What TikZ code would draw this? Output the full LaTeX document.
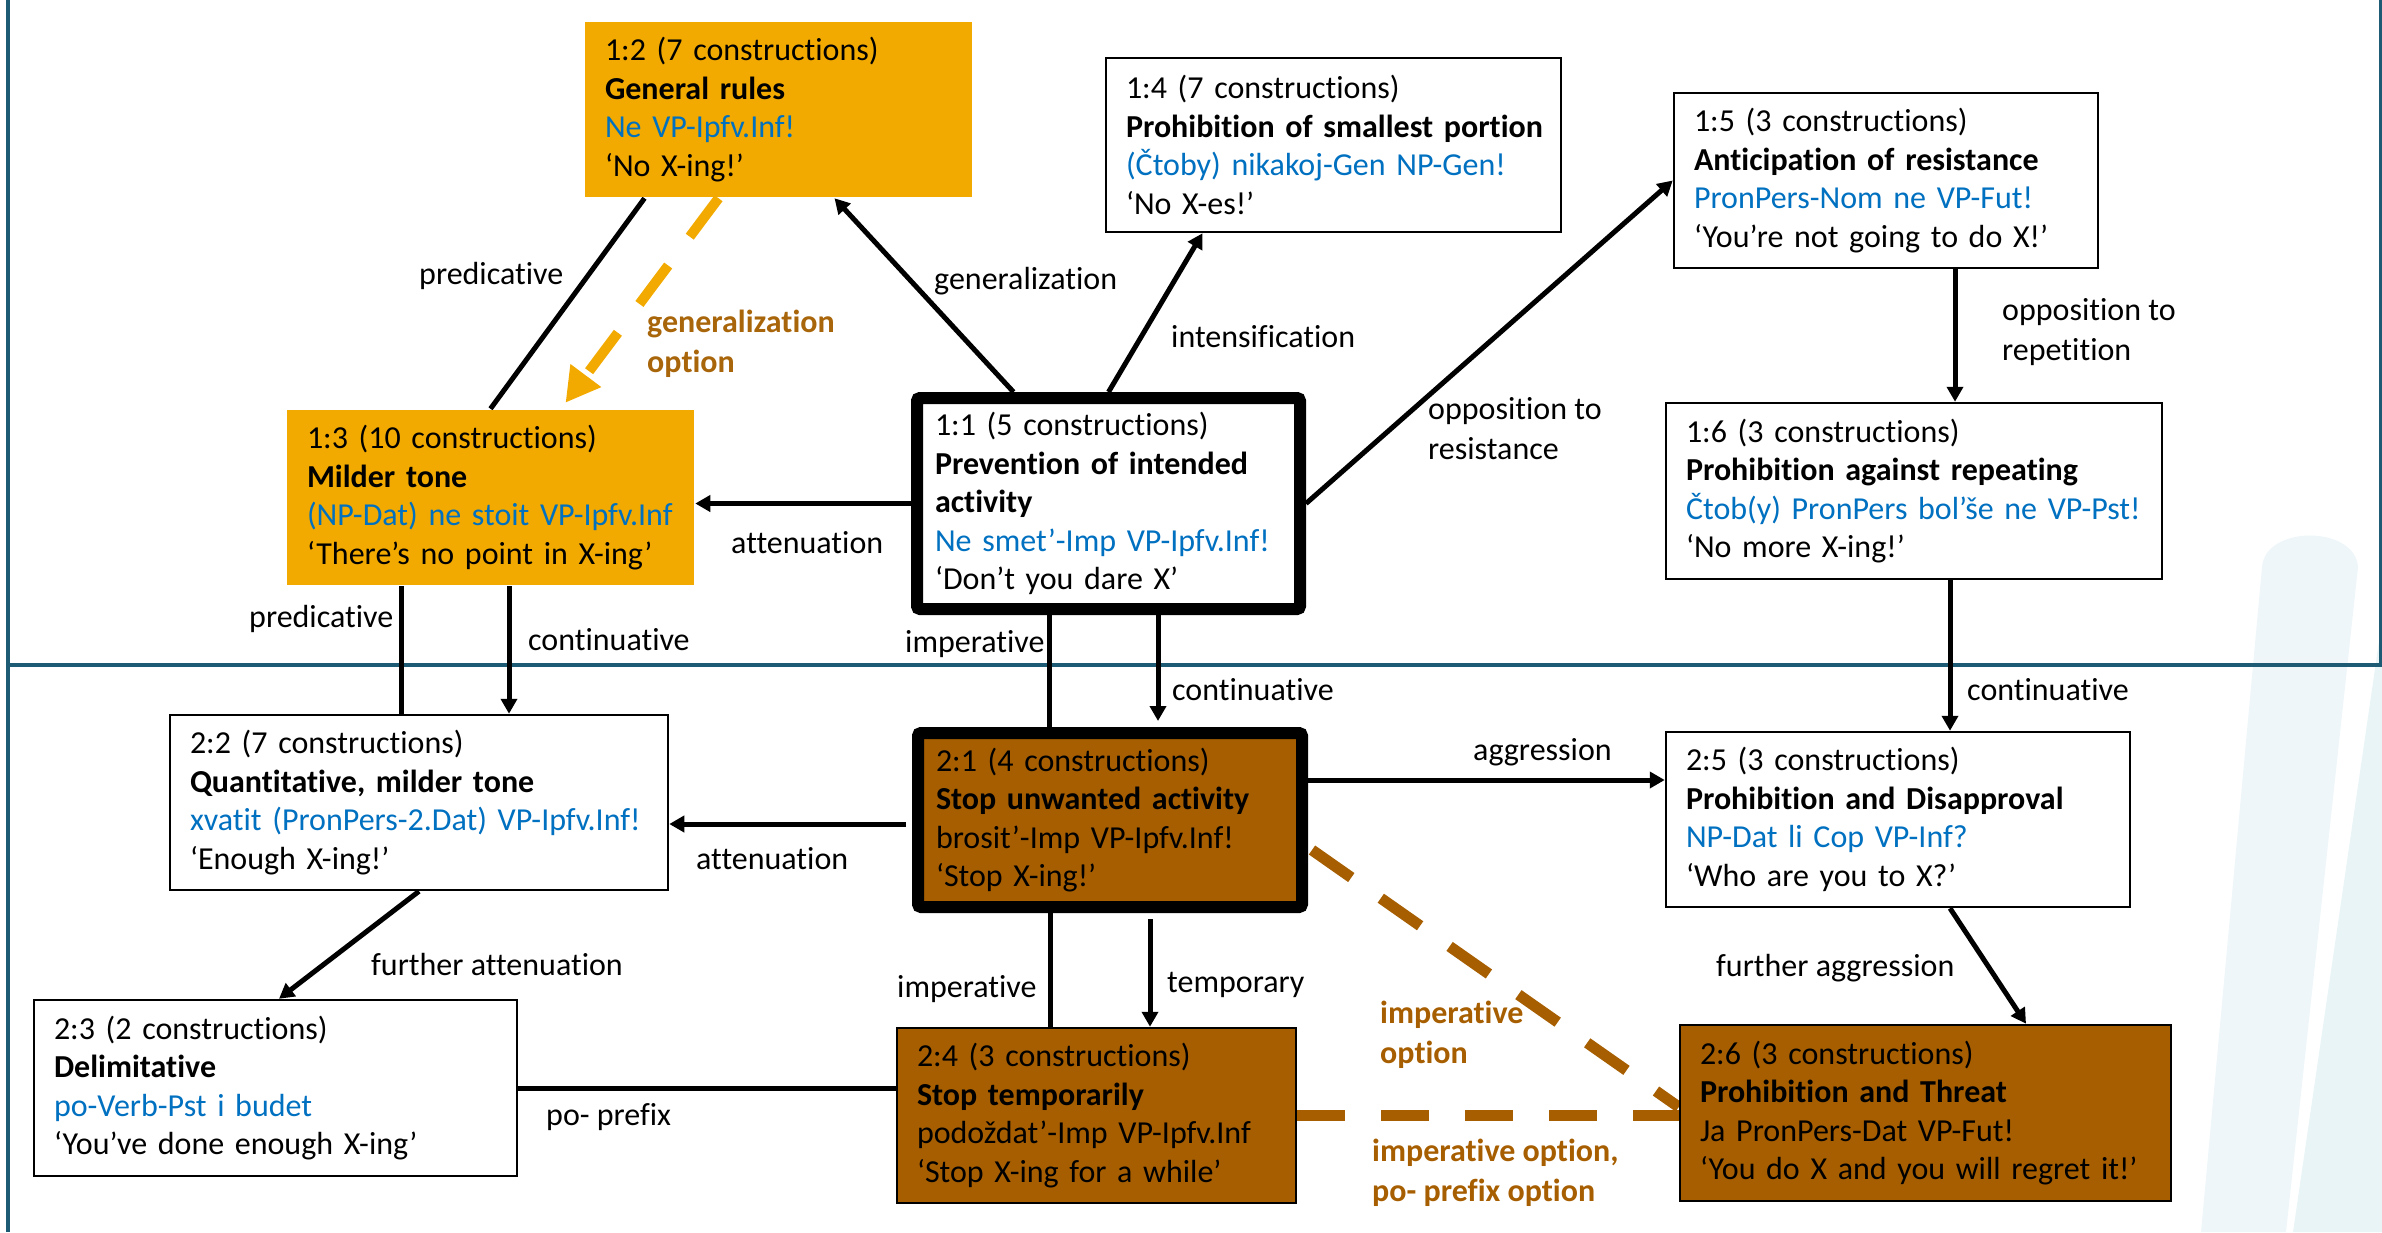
\documentclass[tikz,border=0pt]{standalone}
\usepackage{fontspec}
\setmainfont{Carlito}[Ligatures=NoCommon]
\usetikzlibrary{arrows.meta,calc}
\pgfdeclarelayer{deco}
\pgfdeclarelayer{edges}
\pgfsetlayers{deco,edges,main}
\definecolor{gold}{HTML}{F2AA00}
\definecolor{brownbox}{HTML}{A65E00}
\definecolor{cblue}{HTML}{0070C0}
\definecolor{frameteal}{HTML}{1D5A74}
\definecolor{genlbl}{HTML}{A8650A}
\definecolor{swA}{HTML}{EEF6F9}
\definecolor{swB}{HTML}{E9F4F7}
\tikzset{
  cbox/.style={draw=black, line width=2.5pt, fill=white, align=left, inner xsep=20pt, inner ysep=0pt,
    font=\fontsize{32}{38.5}\selectfont, anchor=center},
  tbox/.style={cbox, line width=12pt, rounded corners=3pt, inner xsep=18pt},
  lbl/.style={inner sep=0pt, anchor=west, align=left, font=\fontsize{32}{40}\selectfont},
  olbl/.style={lbl, font=\fontsize{32}{40}\selectfont\bfseries},
  ln/.style={draw=black, line width=5pt},
  arr/.style={ln, -{Triangle[length=15pt,width=16pt]}},
  goldarr/.style={draw=gold, line width=10pt, dash pattern=on 48pt off 36pt, -{Triangle[length=34pt,width=36pt]}},
  brline/.style={draw=brownbox, line width=11pt, dash pattern=on 48pt off 36pt},
  framel/.style={draw=frameteal, line width=4pt}
}
\begin{document}
\begin{tikzpicture}[x=1pt,y=-1pt]
\useasboundingbox (0,0) rectangle (2382,1232);
\begin{pgfonlayer}{deco}
\fill[swA] (2262,567) .. controls (2265,525) and (2355,525) .. (2358,567) -- (2286,1232) -- (2201,1232) -- cycle;
\fill[swB] (2385,600) -- (2382,1232) -- (2293,1232) -- cycle;
\draw[framel] (8,0) -- (8,1232);
\draw[framel] (8,665) -- (2382,665);
\draw[framel, line width=2.5pt] (2380.5,0) -- (2380.5,665);
\end{pgfonlayer}

% boxes
\node[cbox, draw=none, fill=gold, minimum width=387pt, minimum height=175pt, text width=347pt] (n12) at (778.5,109.5)
 {1:2 (7 constructions)\\\textbf{General rules}\\\textcolor{cblue}{Ne VP-Ipfv.Inf!}\\‘No X-ing!’};
\node[cbox, draw=none, fill=gold, minimum width=407pt, minimum height=175pt, text width=367pt] (n13) at (490.5,497.5)
 {1:3 (10 constructions)\\\textbf{Milder tone}\\\textcolor{cblue}{(NP-Dat) ne stoit VP-Ipfv.Inf}\\‘There’s no point in X-ing’};
\node[tbox, minimum width=383pt, minimum height=211pt, text width=347pt] (n11) at (1108.5,503.5)
 {1:1 (5 constructions)\\\textbf{Prevention of intended}\\\textbf{activity}\\\textcolor{cblue}{Ne smet’-Imp VP-Ipfv.Inf!}\\‘Don’t you dare X’};
\node[cbox, minimum width=455pt, minimum height=174pt, text width=415pt] (n14) at (1333.5,145)
 {1:4 (7 constructions)\\\mbox{\textbf{Prohibition of smallest portion}}\\\textcolor{cblue}{(Čtoby) nikakoj-Gen NP-Gen!}\\‘No X-es!’};
\node[cbox, minimum width=424pt, minimum height=175pt, text width=384pt] (n15) at (1886,180.5)
 {1:5 (3 constructions)\\\textbf{Anticipation of resistance}\\\textcolor{cblue}{PronPers-Nom ne VP-Fut!}\\‘You’re not going to do X!’};
\node[cbox, minimum width=496pt, minimum height=176pt, text width=456pt] (n16) at (1914,491)
 {1:6 (3 constructions)\\\mbox{\textbf{Prohibition against repeating}}\\\mbox{\textcolor{cblue}{Čtob(y) PronPers bol’še ne VP-Pst!}}\\‘No more X-ing!’};
\node[cbox, minimum width=498pt, minimum height=175pt, text width=458pt] (n22) at (419,802.5)
 {2:2 (7 constructions)\\\textbf{Quantitative, milder tone}\\\mbox{\textcolor{cblue}{xvatit (PronPers-2.Dat) VP-Ipfv.Inf!}}\\‘Enough X-ing!’};
\node[tbox, fill=brownbox, minimum width=384pt, minimum height=174pt, text width=348pt] (n21) at (1110,820)
 {2:1 (4 constructions)\\\mbox{\textbf{Stop unwanted activity}}\\brosit’-Imp VP-Ipfv.Inf!\\‘Stop X-ing!’};
\node[cbox, minimum width=483pt, minimum height=176pt, text width=443pt] (n23) at (275.5,1088)
 {2:3 (2 constructions)\\\textbf{Delimitative}\\\textcolor{cblue}{po-Verb-Pst i budet}\\‘You’ve done enough X-ing’};
\node[cbox, fill=brownbox, minimum width=399pt, minimum height=175pt, text width=359pt] (n24) at (1096.5,1115.5)
 {2:4 (3 constructions)\\\textbf{Stop temporarily}\\\mbox{podoždat’-Imp VP-Ipfv.Inf}\\‘Stop X-ing for a while’};
\node[cbox, minimum width=464pt, minimum height=175pt, text width=424pt] (n25) at (1898,819.5)
 {2:5 (3 constructions)\\\mbox{\textbf{Prohibition and Disapproval}}\\\textcolor{cblue}{NP-Dat li Cop VP-Inf?}\\‘Who are you to X?’};
\node[cbox, fill=brownbox, minimum width=491pt, minimum height=176pt, text width=451pt] (n26) at (1925.5,1113)
 {2:6 (3 constructions)\\\textbf{Prohibition and Threat}\\Ja PronPers-Dat VP-Fut!\\\mbox{‘You do X and you will regret it!’}};

% labels
\node[lbl] (l1) at (419,276) {predicative};
\node[olbl, text=genlbl] (l2) at (647,344) {generalization\\option};
\node[lbl] (l3) at (934,281) {generalization};
\node[lbl] (l4) at (1171,337) {intensification};
\node[lbl] (l5) at (1428,429) {opposition to\\resistance};
\node[lbl] (l6) at (2002,332) {opposition to\\repetition};
\node[lbl] (l7) at (731,543) {attenuation};
\node[lbl] (l8) at (249,619) {predicative};
\node[lbl] (l9) at (528,640) {continuative};
\node[lbl] (l10) at (905,644) {imperative};
\node[lbl] (l11) at (1172,690) {continuative};
\node[lbl] (l12) at (1967,690) {continuative};
\node[lbl] (l13) at (1473,752) {aggression};
\node[lbl] (l14) at (696,859) {attenuation};
\node[lbl] (l15) at (371,964) {further attenuation};
\node[lbl] (l16) at (897,989) {imperative};
\node[lbl] (l17) at (1167,985) {temporary};
\node[lbl] (l18) at (1716,968) {further aggression};
\node[olbl, text=brownbox] (l19) at (1380,1035) {imperative\\option};
\node[olbl, text=brownbox] (l20) at (1372,1173) {imperative option,\\po- prefix option};
\node[lbl] (l21) at (546,1117) {po- prefix};

% connectors
\begin{pgfonlayer}{edges}
\draw[arr] ([xshift=-95pt]n11.north) -- ([xshift=56pt]n12.south);
\draw[ln] ([xshift=-134pt]n12.south) -- (n13.north);
\draw[goldarr] ([xshift=-60pt]n12.south) -- ([xshift=75pt,yshift=6pt]n13.north);
\draw[arr] (n11.west) -- (n11.west -| n13.east);
\draw[arr] (n11.north) -- ([xshift=-131pt]n14.south);
\draw[arr] (n11.east) -- (n15.west);
\coordinate (a1) at ([xshift=69pt]n15.south);
\draw[arr] (a1) -- (a1 |- n16.north);
\coordinate (a2) at ([xshift=36pt]n16.south);
\draw[arr] (a2) -- (a2 |- n25.north);
\coordinate (a3) at ([xshift=-89.5pt]n13.south);
\draw[ln] (a3) -- (a3 |- n22.north);
\coordinate (a4) at ([xshift=18.5pt]n13.south);
\draw[arr] (a4) -- (a4 |- n22.north);
\coordinate (a5) at ([xshift=-59pt]n11.south);
\draw[ln] (a5) -- (a5 |- n21.north);
\coordinate (a6) at ([xshift=49.5pt]n11.south);
\coordinate (a6e) at (a6 |- n21.north);
\draw[arr] (a6) -- ([yshift=6pt]a6e);
\coordinate (a7) at ([yshift=-4pt]n21.west);
\coordinate (a7e) at (a7 -| n22.east);
\draw[arr] ([xshift=-6pt]a7) -- (a7e);
\draw[arr] (n22.south) -- ([xshift=3.5pt]n23.north);
\coordinate (a8) at ([xshift=-60pt]n21.south);
\draw[ln] (a8) -- (a8 |- n24.north);
\coordinate (a9) at ([xshift=40pt]n21.south);
\draw[arr] ([yshift=-6pt]a9) -- (a9 |- n24.north);
\draw[ln] (n23.east) -- (n23.east -| n24.west);
\coordinate (a10) at ([yshift=40pt]n21.east);
\draw[arr] (a10) -- (a10 -| n25.west);
\draw[arr] ([xshift=52pt]n25.south) -- ([xshift=100.5pt]n26.north);
\draw[brline] ([xshift=4pt,yshift=-30pt]n21.east) -- ([yshift=6pt]n26.west);
\draw[brline] (n24.east) -- (n24.east -| n26.west);
\end{pgfonlayer}
\end{tikzpicture}
\end{document}
